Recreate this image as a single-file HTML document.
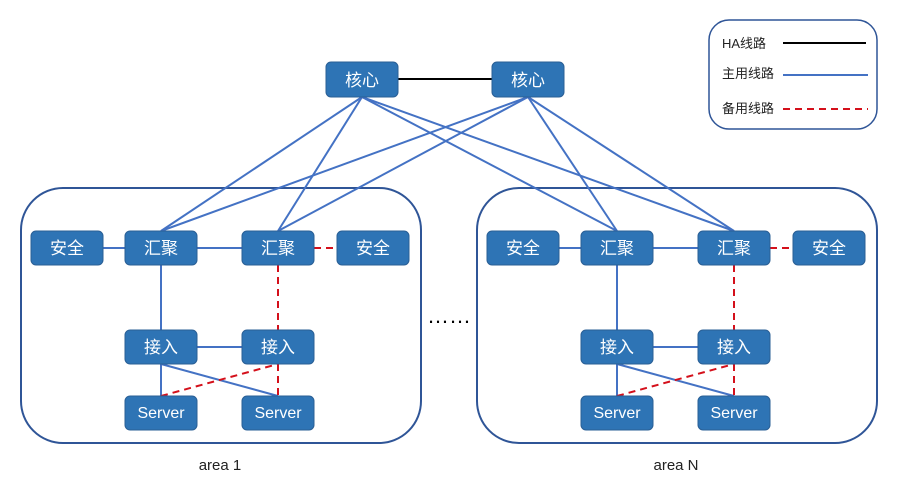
<!DOCTYPE html>
<html><head><meta charset="utf-8"><style>
html,body{margin:0;padding:0;background:#fff;}
svg{display:block;}
text{font-family:"Liberation Sans","Noto Sans CJK SC",sans-serif;}
.n{fill:#2e74b5;stroke:#2a5f95;stroke-width:1;}
.t{fill:#fff;font-size:17px;text-anchor:middle;}
.b{stroke:#4472c4;stroke-width:2;fill:none;}
.r{stroke:#d4101b;stroke-width:2;stroke-dasharray:7,5;fill:none;}
</style></head><body>
<svg width="898" height="488" viewBox="0 0 898 488">
<rect x="21" y="188" width="400" height="255" rx="42" fill="none" stroke="#2f5597" stroke-width="2"/>
<rect x="477" y="188" width="400" height="255" rx="42" fill="none" stroke="#2f5597" stroke-width="2"/>
<rect x="709" y="20" width="168" height="109" rx="20" fill="none" stroke="#2f5597" stroke-width="1.5"/>
<text x="722" y="48" font-size="13" fill="#222">HA线路</text>
<line x1="783" y1="43" x2="866" y2="43" stroke="#000" stroke-width="2"/>
<text x="722" y="78" font-size="13" fill="#222">主用线路</text>
<line x1="783" y1="75" x2="868" y2="75" stroke="#4472c4" stroke-width="2"/>
<text x="722" y="113" font-size="13" fill="#222">备用线路</text>
<line x1="783" y1="109" x2="868" y2="109" class="r"/>
<line x1="398" y1="79" x2="492" y2="79" stroke="#000" stroke-width="2"/>
<g class="b">
<line x1="362" y1="97" x2="161" y2="231"/><line x1="362" y1="97" x2="278" y2="231"/>
<line x1="362" y1="97" x2="617" y2="231"/><line x1="362" y1="97" x2="734" y2="231"/>
<line x1="528" y1="97" x2="161" y2="231"/><line x1="528" y1="97" x2="278" y2="231"/>
<line x1="528" y1="97" x2="617" y2="231"/><line x1="528" y1="97" x2="734" y2="231"/>
</g>
<g>
<line class="b" x1="103" y1="248" x2="125" y2="248"/>
<line class="b" x1="197" y1="248" x2="242" y2="248"/>
<line class="r" x1="314" y1="248" x2="337" y2="248"/>
<line class="b" x1="161" y1="265" x2="161" y2="330"/>
<line class="r" x1="278" y1="265" x2="278" y2="330"/>
<line class="b" x1="197" y1="347" x2="242" y2="347"/>
<line class="b" x1="161" y1="364" x2="161" y2="396"/>
<line class="b" x1="161" y1="364" x2="278" y2="396"/>
<line class="r" x1="161" y1="396" x2="278" y2="364"/>
<line class="r" x1="278" y1="364" x2="278" y2="396"/>
<rect class="n" x="31" y="231" width="72" height="34" rx="5"/><text class="t" x="67" y="254">安全</text>
<rect class="n" x="125" y="231" width="72" height="34" rx="5"/><text class="t" x="161" y="254">汇聚</text>
<rect class="n" x="242" y="231" width="72" height="34" rx="5"/><text class="t" x="278" y="254">汇聚</text>
<rect class="n" x="337" y="231" width="72" height="34" rx="5"/><text class="t" x="373" y="254">安全</text>
<rect class="n" x="125" y="330" width="72" height="34" rx="5"/><text class="t" x="161" y="353">接入</text>
<rect class="n" x="242" y="330" width="72" height="34" rx="5"/><text class="t" x="278" y="353">接入</text>
<rect class="n" x="125" y="396" width="72" height="34" rx="5"/><text class="t" x="161" y="418" style="font-size:16px">Server</text>
<rect class="n" x="242" y="396" width="72" height="34" rx="5"/><text class="t" x="278" y="418" style="font-size:16px">Server</text>
</g>
<g transform="translate(456,0)">
<line class="b" x1="103" y1="248" x2="125" y2="248"/>
<line class="b" x1="197" y1="248" x2="242" y2="248"/>
<line class="r" x1="314" y1="248" x2="337" y2="248"/>
<line class="b" x1="161" y1="265" x2="161" y2="330"/>
<line class="r" x1="278" y1="265" x2="278" y2="330"/>
<line class="b" x1="197" y1="347" x2="242" y2="347"/>
<line class="b" x1="161" y1="364" x2="161" y2="396"/>
<line class="b" x1="161" y1="364" x2="278" y2="396"/>
<line class="r" x1="161" y1="396" x2="278" y2="364"/>
<line class="r" x1="278" y1="364" x2="278" y2="396"/>
<rect class="n" x="31" y="231" width="72" height="34" rx="5"/><text class="t" x="67" y="254">安全</text>
<rect class="n" x="125" y="231" width="72" height="34" rx="5"/><text class="t" x="161" y="254">汇聚</text>
<rect class="n" x="242" y="231" width="72" height="34" rx="5"/><text class="t" x="278" y="254">汇聚</text>
<rect class="n" x="337" y="231" width="72" height="34" rx="5"/><text class="t" x="373" y="254">安全</text>
<rect class="n" x="125" y="330" width="72" height="34" rx="5"/><text class="t" x="161" y="353">接入</text>
<rect class="n" x="242" y="330" width="72" height="34" rx="5"/><text class="t" x="278" y="353">接入</text>
<rect class="n" x="125" y="396" width="72" height="34" rx="5"/><text class="t" x="161" y="418" style="font-size:16px">Server</text>
<rect class="n" x="242" y="396" width="72" height="34" rx="5"/><text class="t" x="278" y="418" style="font-size:16px">Server</text>
</g>
<rect class="n" x="326" y="62" width="72" height="35" rx="5"/><text class="t" x="362" y="86">核心</text>
<rect class="n" x="492" y="62" width="72" height="35" rx="5"/><text class="t" x="528" y="86">核心</text>
<text x="449" y="323" font-size="22" text-anchor="middle" fill="#000">……</text>
<text x="220" y="470" font-size="15" text-anchor="middle" fill="#222">area 1</text>
<text x="676" y="470" font-size="15" text-anchor="middle" fill="#222">area N</text>
</svg>
</body></html>
